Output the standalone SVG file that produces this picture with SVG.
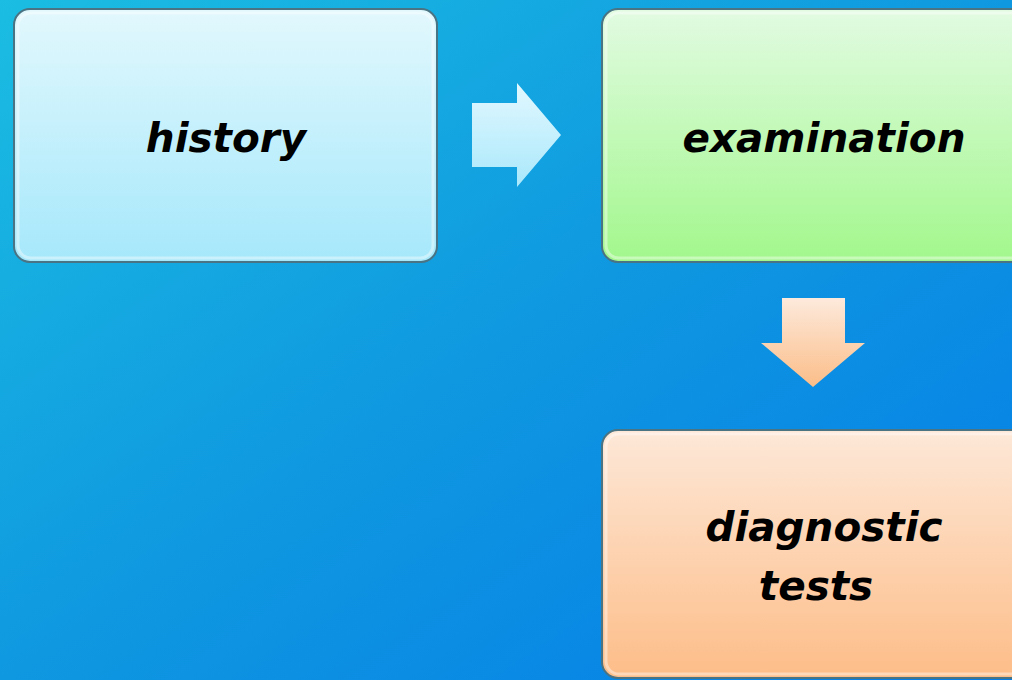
<svg xmlns="http://www.w3.org/2000/svg" width="1012" height="680" viewBox="0 0 1012 680">
  <defs>
    <linearGradient id="bg" x1="0" y1="0" x2="1" y2="1">
      <stop offset="0" stop-color="#1bbde2"/>
      <stop offset="0.5" stop-color="#0f98e0"/>
      <stop offset="1" stop-color="#047ce8"/>
    </linearGradient>
    <linearGradient id="gBlue" x1="0" y1="0" x2="0" y2="1">
      <stop offset="0" stop-color="#e2f8fd"/>
      <stop offset="1" stop-color="#a6e8fb"/>
    </linearGradient>
    <linearGradient id="gGreen" x1="0" y1="0" x2="0" y2="1">
      <stop offset="0" stop-color="#e2fbe2"/>
      <stop offset="1" stop-color="#a2f78c"/>
    </linearGradient>
    <linearGradient id="gOrange" x1="0" y1="0" x2="0" y2="1">
      <stop offset="0" stop-color="#fde8d8"/>
      <stop offset="1" stop-color="#fdbd88"/>
    </linearGradient>
    <linearGradient id="aBlue" x1="0" y1="0" x2="0" y2="1">
      <stop offset="0" stop-color="#e2f8ff"/>
      <stop offset="1" stop-color="#a9e8fb"/>
    </linearGradient>
    <linearGradient id="aOrange" x1="0" y1="0" x2="0" y2="1">
      <stop offset="0" stop-color="#fdeadc"/>
      <stop offset="1" stop-color="#fbbd88"/>
    </linearGradient>
  </defs>
  <style>
    .box { stroke: #4a7383; stroke-width: 2; }
    .inner { fill: none; stroke: #ffffff; stroke-opacity: 0.4; stroke-width: 3; }
    .lbl { font-family: "DejaVu Sans", "Liberation Sans", sans-serif; font-weight: bold; font-style: italic; font-size: 40.5px; fill: #000000; text-anchor: middle; }
  </style>
  <rect x="0" y="0" width="1012" height="680" fill="url(#bg)"/>
  <g id="history">
    <rect class="box" x="14" y="9" width="423" height="253" rx="16" fill="url(#gBlue)"/>
    <rect class="inner" x="18" y="13" width="415" height="245" rx="13"/>
    <text class="lbl" x="226" y="152">history</text>
  </g>
  <g id="examination">
    <rect class="box" x="602" y="9" width="430" height="253" rx="16" fill="url(#gGreen)"/>
    <rect class="inner" x="606" y="13" width="422" height="245" rx="13"/>
    <text class="lbl" x="824" y="152">examination</text>
  </g>
  <g id="diagnostic-tests">
    <rect class="box" x="602" y="430" width="430" height="248" rx="16" fill="url(#gOrange)"/>
    <rect class="inner" x="606" y="434" width="422" height="240" rx="13"/>
    <text class="lbl" x="824" y="541">diagnostic</text>
    <text class="lbl" x="816" y="600">tests</text>
  </g>
  <g id="connectors">
    <polygon points="472,103 517,103 517,83 561,135 517,187 517,167 472,167" fill="url(#aBlue)"/>
    <polygon points="782,298 845,298 845,343 865,343 813,387 761,343 782,343" fill="url(#aOrange)"/>
  </g>
</svg>
